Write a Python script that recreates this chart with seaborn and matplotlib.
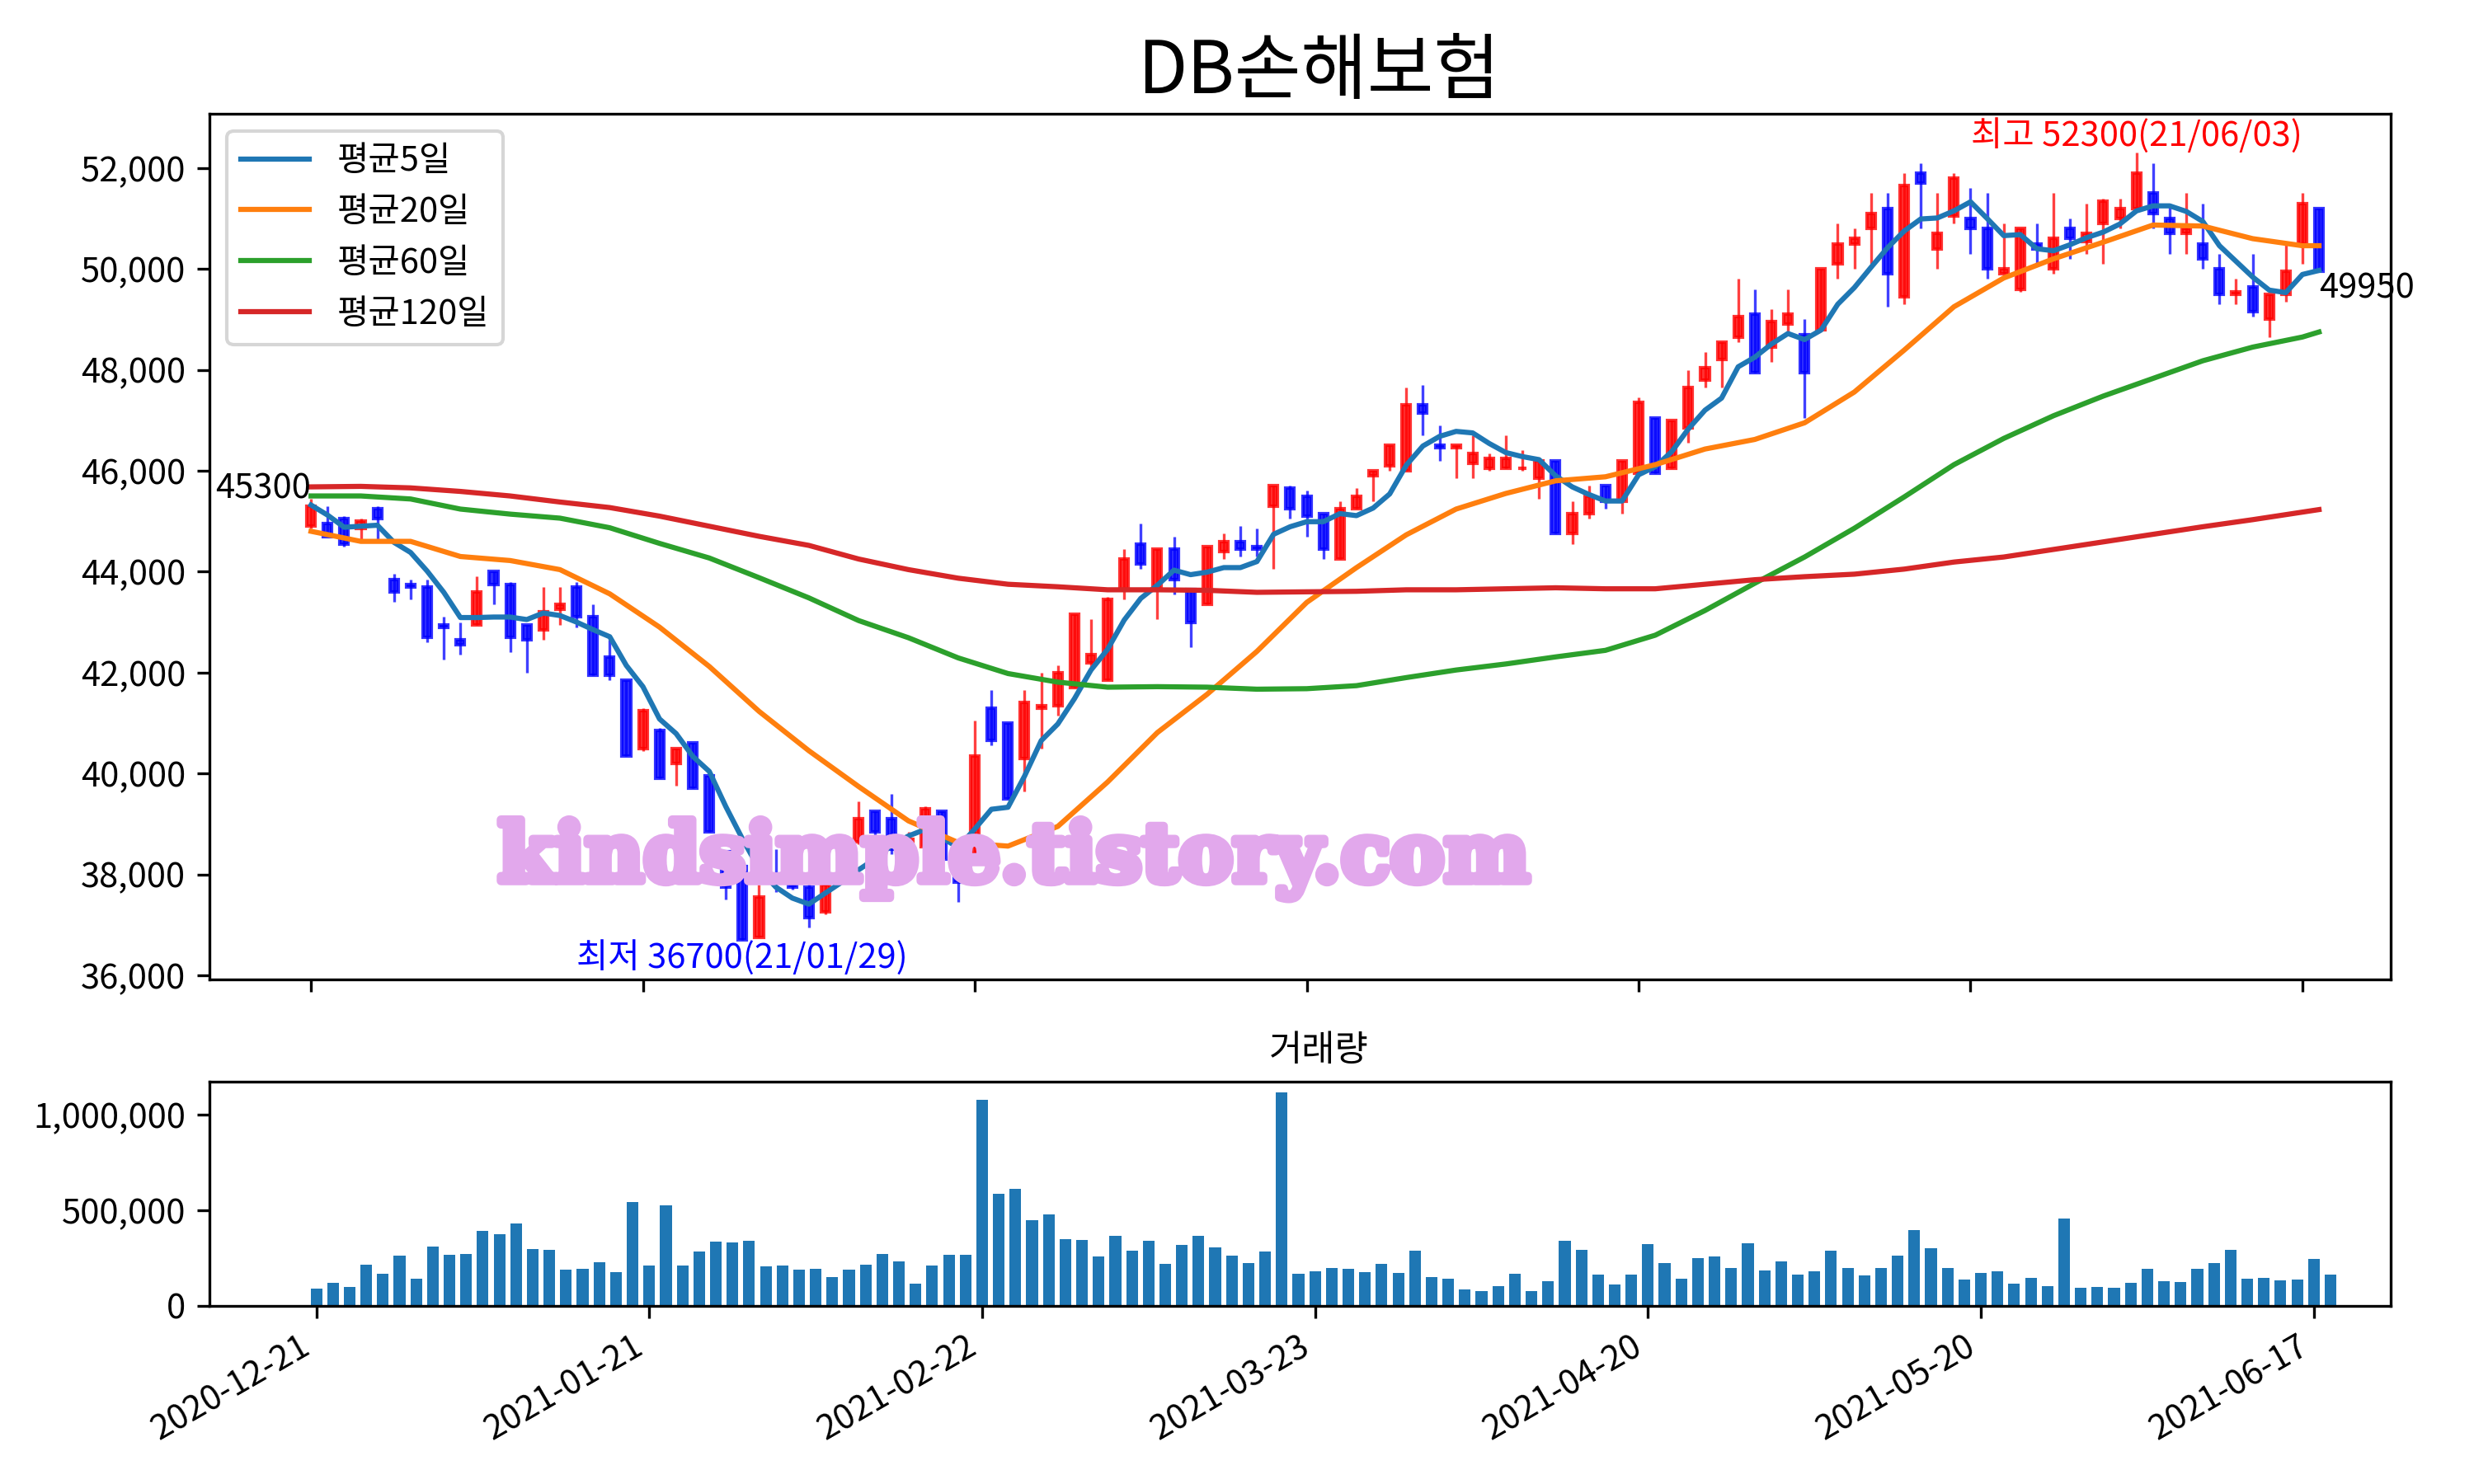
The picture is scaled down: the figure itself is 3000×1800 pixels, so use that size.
import numpy as np
import pandas as pd
import matplotlib
matplotlib.use('Agg')
import matplotlib.pyplot as plt
import matplotlib.patheffects as pe
import seaborn as sns
from matplotlib.ticker import FuncFormatter

# 종목 정보
title = 'DB손해보험'
tick_dates = ['2020-12-21', '2021-01-21', '2021-02-22', '2021-03-23',
              '2021-04-20', '2021-05-20', '2021-06-17']
hi_date = '21/06/03'
lo_date = '21/01/29'

# 일봉 (시가, 고가, 저가, 종가)
open_ = [44900, 44950, 45050, 44850, 45250, 43850, 43750, 43700, 42950, 42650,
         42950, 44000, 43750, 42950, 42850, 43250, 43700, 43100, 42300, 41850,
         40500, 40850, 40200, 40600, 39950, 38450, 38150, 36750, 38000, 37800,
         37750, 37250, 38300, 38650, 39250, 39100, 38550, 38550, 39250, 38400,
         38400, 41300, 41000, 40300, 41300, 41350, 41700, 42200, 41850, 43650,
         44550, 43650, 44450, 43650, 43350, 44400, 44600, 44500, 45300, 45650,
         45500, 45150, 44250, 45250, 45900, 46100, 46000, 47300, 46500, 46450,
         46150, 46050, 46050, 46050, 45850, 46200, 44750, 45150, 45700, 45400,
         45950, 47050, 46050, 46850, 47800, 48200, 48650, 49100, 48450, 48900,
         48700, 48800, 50100, 50500, 50800, 51200, 49450, 51900, 50400, 51050,
         51000, 50800, 49900, 49600, 50500, 50000, 50800, 50550, 50900, 51000,
         51200, 51500, 51000, 50700, 50500, 50000, 49500, 49650, 49000, 49500,
         50500, 51200]
high = [45450, 45300, 45100, 45050, 45300, 43950, 43850, 43850, 43100, 43000,
        43900, 44000, 43800, 42950, 43700, 43700, 43800, 43350, 42650, 41850,
        41300, 40900, 40500, 40600, 39950, 38450, 38300, 37800, 38500, 37950,
        38000, 37950, 38800, 39450, 39250, 39600, 38850, 39350, 39250, 38400,
        41050, 41650, 41000, 41650, 42000, 42150, 43150, 43050, 43500, 44450,
        44950, 44450, 44700, 43650, 44500, 44750, 44900, 44850, 45700, 45700,
        45600, 45150, 45400, 45650, 46000, 46500, 47650, 47700, 46900, 46500,
        46700, 46350, 46700, 46400, 46200, 46200, 45400, 45700, 45700, 46200,
        47450, 47050, 47000, 48000, 48350, 48550, 49800, 49600, 49200, 49600,
        49000, 50000, 50900, 50800, 51500, 51500, 51900, 52100, 51500, 51900,
        51600, 51500, 50900, 50800, 50900, 51500, 51000, 51300, 51400, 51400,
        52300, 52100, 51300, 51500, 51300, 50300, 49800, 50300, 49500, 50500,
        51500, 51200]
low = [44850, 44700, 44500, 44650, 44650, 43400, 43450, 42600, 42250, 42350,
       42950, 43350, 42400, 42000, 42650, 42950, 42900, 41950, 41850, 40350,
       40450, 39900, 39750, 39700, 38850, 37500, 36700, 36750, 37650, 37700,
       36950, 37200, 38200, 38600, 38700, 38400, 38550, 38400, 38300, 37450,
       38400, 40550, 39500, 39650, 40500, 41150, 41700, 42100, 41850, 43450,
       44050, 43050, 43550, 42500, 43350, 44250, 44300, 44300, 44050, 45050,
       44700, 44250, 44250, 45250, 45400, 46000, 46000, 46700, 46200, 45850,
       45850, 46000, 46050, 46000, 45450, 44750, 44550, 45050, 45250, 45150,
       45950, 45950, 46050, 46550, 47650, 47650, 48550, 47950, 48150, 48700,
       47050, 48800, 49800, 50000, 50100, 49250, 49300, 50800, 50000, 50900,
       50300, 49800, 49900, 49550, 50100, 49900, 50200, 50300, 50100, 50800,
       51200, 50800, 50300, 50300, 50000, 49300, 49300, 49050, 48650, 49350,
       50100, 49950]
close = [45300, 44700, 44550, 45000, 45050, 43600, 43700, 42700, 42900, 42550,
         43600, 43750, 42700, 42650, 43200, 43350, 43100, 41950, 41950, 40350,
         41250, 39900, 40500, 39700, 38850, 37750, 36700, 37550, 37900, 37750,
         37150, 37800, 38650, 39100, 38850, 38500, 38700, 39300, 38300, 37850,
         40350, 40650, 39500, 41400, 41350, 42000, 43150, 42350, 43450, 44250,
         44150, 44450, 43850, 43000, 44500, 44600, 44450, 44450, 45700, 45250,
         45100, 44450, 45250, 45500, 46000, 46500, 47300, 47150, 46450, 46500,
         46350, 46250, 46250, 46050, 46200, 44750, 45150, 45500, 45400, 46200,
         47350, 45950, 47000, 47650, 48050, 48550, 49050, 47950, 48950, 49100,
         47950, 50000, 50500, 50600, 51100, 49900, 51650, 51700, 50700, 51800,
         50800, 50000, 50000, 50800, 50400, 50600, 50600, 50700, 51350, 51200,
         51900, 51100, 50700, 50800, 50200, 49500, 49550, 49150, 49500, 49950,
         51300, 49950]
volume = [89000, 119000, 98000, 214000, 167000, 261000, 141000, 309000, 266000, 270000,
          391000, 374000, 430000, 296000, 292000, 188000, 193000, 227000, 175000, 542000,
          210000, 524000, 210000, 283000, 335000, 330000, 339000, 205000, 210000, 188000,
          193000, 149000, 188000, 214000, 270000, 231000, 115000, 210000, 266000, 266000,
          1076000, 585000, 611000, 447000, 477000, 348000, 343000, 257000, 365000, 287000,
          339000, 218000, 318000, 365000, 305000, 261000, 223000, 283000, 1115000, 167000,
          180000, 197000, 193000, 175000, 218000, 171000, 287000, 149000, 141000, 85000,
          76000, 102000, 167000, 76000, 128000, 339000, 292000, 162000, 111000, 162000,
          322000, 223000, 141000, 249000, 257000, 197000, 326000, 184000, 231000, 162000,
          180000, 287000, 197000, 158000, 197000, 261000, 395000, 300000, 197000, 136000,
          171000, 180000, 115000, 145000, 102000, 455000, 93000, 98000, 93000, 119000,
          193000, 128000, 124000, 193000, 223000, 292000, 141000, 145000, 132000, 136000,
          244000, 162000]

# 이동평균
ma5 = [45320, 45120, 44880, 44900, 44920, 44580, 44380, 44010, 43590, 43090,
       43090, 43100, 43100, 43050, 43180, 43130, 43000, 42850, 42710, 42140,
       41720, 41080, 40790, 40340, 40040, 39340, 38700, 38110, 37750, 37530,
       37410, 37630, 37850, 38090, 38310, 38580, 38760, 38890, 38730, 38530,
       38900, 39290, 39330, 39950, 40650, 40980, 41480, 42050, 42460, 43040,
       43470, 43730, 44030, 43940, 43990, 44080, 44080, 44200, 44740, 44890,
       44990, 44990, 45150, 45110, 45260, 45540, 46110, 46490, 46680, 46780,
       46750, 46540, 46360, 46280, 46220, 45900, 45680, 45530, 45400, 45400,
       45920, 46080, 46380, 46830, 47200, 47440, 48060, 48250, 48510, 48720,
       48600, 48790, 49300, 49630, 50030, 50420, 50750, 50990, 51010, 51150,
       51330, 51000, 50660, 50680, 50400, 50360, 50480, 50620, 50730, 50890,
       51150, 51250, 51250, 51140, 50940, 50460, 50150, 49840, 49580, 49530,
       49890, 49970]
ma_idx = [0, 3, 6, 9, 12, 15, 18, 21, 24, 27, 30, 33, 36, 39, 42, 45, 48, 51, 54, 57,
          60, 63, 66, 69, 72, 75, 78, 81, 84, 87, 90, 93, 96, 99, 102, 105, 108, 111,
          114, 117, 120, 121]
ma20 = [44800, 44600, 44600, 44300, 44220, 44040, 43560, 42900, 42120, 41230,
        40450, 39740, 39060, 38630, 38560, 38950, 39830, 40810, 41570, 42420,
        43390, 44080, 44730, 45240, 45550, 45800, 45880, 46120, 46430, 46620,
        46950, 47560, 48390, 49250, 49820, 50200, 50530, 50870, 50850, 50600,
        50460, 50460]
ma60 = [45500, 45500, 45440, 45240, 45140, 45060, 44870, 44560, 44270, 43880,
        43480, 43030, 42690, 42290, 41980, 41810, 41710, 41720, 41710, 41670,
        41680, 41740, 41900, 42050, 42170, 42310, 42440, 42740, 43230, 43770,
        44290, 44860, 45480, 46120, 46640, 47090, 47480, 47830, 48180, 48450,
        48650, 48750]
ma120 = [45680, 45690, 45660, 45590, 45500, 45380, 45270, 45100, 44900, 44700,
         44520, 44250, 44040, 43870, 43750, 43700, 43640, 43640, 43630, 43590,
         43600, 43610, 43640, 43640, 43660, 43680, 43660, 43660, 43750, 43840,
         43900, 43950, 44050, 44190, 44290, 44440, 44590, 44740, 44890, 45030,
         45180, 45230]

df = pd.DataFrame({'open': open_, 'high': high, 'low': low,
                   'close': close, 'volume': volume})
n = len(df)
x = np.arange(n)
colors = np.where(df['close'] >= df['open'], 'red', 'blue')

plt.rcParams['font.family'] = ['Noto Sans CJK KR', 'DejaVu Sans']
plt.rcParams['axes.unicode_minus'] = False

fig = plt.figure(figsize=(10, 6), dpi=300)
ax1 = fig.add_axes([0.0848, 0.3401, 0.8814, 0.5834])
ax2 = fig.add_axes([0.0848, 0.1201, 0.8814, 0.1509])
ax1.use_sticky_edges = False

# 캔들
ax1.vlines(x, df['low'], df['high'], colors=colors, linewidth=0.8, alpha=0.75)
ax1.bar(x, (df['close'] - df['open']).abs(),
        bottom=df[['open', 'close']].min(axis=1),
        width=0.5, color=colors, edgecolor=colors, linewidth=1.0, alpha=0.8)

# 이동평균선
sns.lineplot(x=x, y=ma5, ax=ax1, color='#1f77b4', linewidth=1.5, label='평균5일')
sns.lineplot(x=ma_idx, y=ma20, ax=ax1, color='#ff7f0e', linewidth=1.5, label='평균20일')
sns.lineplot(x=ma_idx, y=ma60, ax=ax1, color='#2ca02c', linewidth=1.5, label='평균60일')
sns.lineplot(x=ma_idx, y=ma120, ax=ax1, color='#d62728', linewidth=1.5, label='평균120일')
ax1.legend(loc='upper left')

# 최고/최저, 처음/마지막 종가
hi_i = int(np.argmax(high))
lo_i = int(np.argmin(low))
ax1.text(hi_i, high[hi_i], f'최고 {high[hi_i]}({hi_date})', color='red',
         ha='center', va='bottom')
ax1.text(lo_i, low[lo_i], f'최저 {low[lo_i]}({lo_date})', color='blue',
         ha='center', va='top')
ax1.text(0, close[0], f'{close[0]}', ha='right', va='bottom')
ax1.text(n - 1, close[-1], f'{close[-1]}', ha='left', va='top')

comma = FuncFormatter(lambda v, p: f'{v:,.0f}')
tick_pos = np.arange(0, n, 20)

ax1.set_xticks(tick_pos)
ax1.tick_params(labelbottom=False)
ax1.set_xlim(-6.1, 125.3)
ax1.yaxis.set_major_formatter(comma)
ax1.set_xlabel('')
ax1.set_ylabel('')
ax1.set_title(title, fontsize=21, x=0.5087)

# 거래량
sns.barplot(x=x, y=df['volume'], ax=ax2, native_scale=True, color='#1f77b4',
            saturation=1, width=0.7, errorbar=None)
ax2.set_xticks(tick_pos)
ax2.set_xticklabels(tick_dates, rotation=30, ha='right')
ax2.set_xlim(-6.4, 124.6)
ax2.yaxis.set_major_formatter(comma)
ax2.set_title('거래량', fontsize=10.5, x=0.5087)
ax2.set_xlabel('')
ax2.set_ylabel('')

# 워터마크
fig.text(0.4098, 0.4208, 'kindsimple.tistory.com', fontsize=23.5, fontweight='bold',
         family='DejaVu Serif', color='#e2a8ec', ha='center', va='center',
         path_effects=[pe.withStroke(linewidth=2.5, foreground='#e2a8ec')])

fig.savefig('out.png', dpi=300)
